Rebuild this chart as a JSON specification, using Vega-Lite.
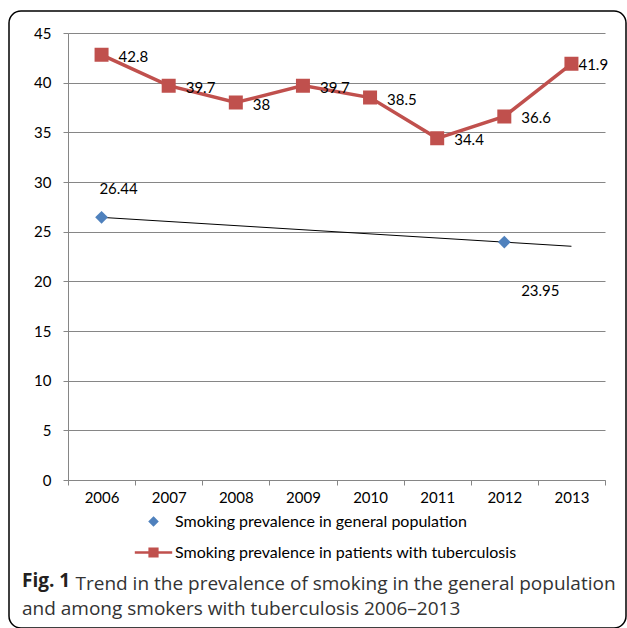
{
  "$schema": "https://vega.github.io/schema/vega-lite/v6.json",
  "autosize": {"type": "none"},
  "padding": {"left": 9, "top": 11, "right": 1, "bottom": 0},
  "width": 617,
  "height": 617,
  "background": "white",
  "title": {
    "text": "Fig. 1",
    "subtitle": "and among smokers with tuberculosis 2006–2013",
    "orient": "bottom",
    "anchor": "start",
    "frame": "group",
    "offset": -56,
    "dx": 13,
    "font": "Open Sans",
    "fontSize": 19,
    "fontWeight": "bold",
    "color": "#231f20",
    "subtitleFont": "Open Sans",
    "subtitleFontSize": 19,
    "subtitleColor": "#333333",
    "subtitlePadding": 9
  },
  "data": {
    "values": [
      {"year": "2006", "series": "Smoking prevalence in patients with tuberculosis", "value": 42.8},
      {"year": "2007", "series": "Smoking prevalence in patients with tuberculosis", "value": 39.7},
      {"year": "2008", "series": "Smoking prevalence in patients with tuberculosis", "value": 38},
      {"year": "2009", "series": "Smoking prevalence in patients with tuberculosis", "value": 39.7},
      {"year": "2010", "series": "Smoking prevalence in patients with tuberculosis", "value": 38.5},
      {"year": "2011", "series": "Smoking prevalence in patients with tuberculosis", "value": 34.4},
      {"year": "2012", "series": "Smoking prevalence in patients with tuberculosis", "value": 36.6},
      {"year": "2013", "series": "Smoking prevalence in patients with tuberculosis", "value": 41.9},
      {"year": "2006", "series": "Smoking prevalence in general population", "value": 26.44},
      {"year": "2012", "series": "Smoking prevalence in general population", "value": 23.95},
      {"year": "2006", "series": "trend", "value": 26.44},
      {"year": "2013", "series": "trend", "value": 23.53}
    ]
  },
  "encoding": {
    "x": {
      "field": "year",
      "type": "ordinal",
      "scale": {"domain": ["2006", "2007", "2008", "2009", "2010", "2011", "2012", "2013"], "range": [59, 596], "paddingInner": 0, "paddingOuter": 0},
      "axis": {
        "title": null,
        "labelAngle": 0,
        "offset": -148,
        "tickBand": "extent",
        "tickSize": 5,
        "labelPadding": 5,
        "grid": false,
        "domainColor": "#868686",
        "tickColor": "#868686"
      }
    },
    "y": {
      "field": "value",
      "type": "quantitative",
      "scale": {"domain": [0, 45], "range": [469, 22], "nice": false, "zero": true},
      "axis": {
        "title": "Trend in the prevalence of smoking in the general population",
        "titleAngle": 0,
        "titleAlign": "left",
        "titleBaseline": "middle",
        "titleX": 7,
        "titleY": 572,
        "titleFont": "Open Sans",
        "titleFontSize": 19,
        "titleFontWeight": "normal",
        "titleColor": "#333333",
        "offset": -59,
        "values": [0, 5, 10, 15, 20, 25, 30, 35, 40, 45],
        "tickSize": 5,
        "labelPadding": 12,
        "grid": true,
        "gridColor": "#868686",
        "gridWidth": 1,
        "domainColor": "#868686",
        "tickColor": "#868686"
      }
    }
  },
  "layer": [
    {
      "transform": [{"filter": "datum.series === 'Smoking prevalence in patients with tuberculosis'"}],
      "mark": {"type": "line", "color": "#C0504D", "strokeWidth": 3.5}
    },
    {
      "transform": [{"filter": "datum.series === 'trend'"}],
      "mark": {"type": "line", "color": "#000000", "strokeWidth": 1}
    },
    {
      "transform": [{"filter": "datum.series !== 'trend'"}],
      "mark": {"type": "point", "filled": true, "opacity": 1, "size": 1600, "strokeWidth": 0},
      "encoding": {
        "fill": {
          "field": "series",
          "type": "nominal",
          "scale": {"domain": ["Smoking prevalence in general population", "Smoking prevalence in patients with tuberculosis"], "range": ["#4F81BD", "#C0504D"]},
          "legend": {
            "title": null,
            "orient": "none",
            "legendX": 132,
            "legendY": 498,
            "direction": "vertical",
            "padding": 0,
            "rowPadding": 9,
            "labelOffset": 9,
            "labelFont": "Lato",
            "labelFontSize": 16,
            "labelColor": "#000000",
            "labelLimit": 600,
            "symbolSize": 484,
            "symbolStrokeWidth": 2.5
          }
        },
        "stroke": {
          "field": "series",
          "type": "nominal",
          "scale": {"domain": ["Smoking prevalence in general population", "Smoking prevalence in patients with tuberculosis"], "range": ["#4F81BD", "#C0504D"]},
          "legend": {
            "title": null,
            "orient": "none",
            "legendX": 132,
            "legendY": 498,
            "direction": "vertical",
            "padding": 0,
            "rowPadding": 9,
            "labelOffset": 9,
            "labelFont": "Lato",
            "labelFontSize": 16,
            "labelColor": "#000000",
            "labelLimit": 600,
            "symbolSize": 484,
            "symbolStrokeWidth": 2.5
          }
        },
        "shape": {
          "field": "series",
          "type": "nominal",
          "scale": {"domain": ["Smoking prevalence in general population", "Smoking prevalence in patients with tuberculosis"], "range": ["M0,-0.32L0.32,0L0,0.32L-0.32,0Z", "M-1.7,0H1.7M-0.35,-0.35H0.35V0.35H-0.35Z"]},
          "legend": {
            "title": null,
            "orient": "none",
            "legendX": 132,
            "legendY": 498,
            "direction": "vertical",
            "padding": 0,
            "rowPadding": 9,
            "labelOffset": 9,
            "labelFont": "Lato",
            "labelFontSize": 16,
            "labelColor": "#000000",
            "labelLimit": 600,
            "symbolSize": 484,
            "symbolStrokeWidth": 2.5
          }
        }
      }
    },
    {
      "transform": [{"filter": "datum.series === 'Smoking prevalence in patients with tuberculosis' && datum.year !== '2013'"}],
      "mark": {"type": "text", "align": "left", "baseline": "middle", "dx": 17, "dy": 2, "font": "Lato", "fontSize": 15, "color": "#000000"},
      "encoding": {"text": {"field": "value", "type": "quantitative"}}
    },
    {
      "transform": [{"filter": "datum.series === 'Smoking prevalence in patients with tuberculosis' && datum.year === '2013'"}],
      "mark": {"type": "text", "align": "left", "baseline": "middle", "dx": 7, "dy": 1, "font": "Lato", "fontSize": 15, "color": "#000000"},
      "encoding": {"text": {"field": "value", "type": "quantitative"}}
    },
    {
      "transform": [{"filter": "datum.series === 'Smoking prevalence in general population' && datum.year === '2006'"}],
      "mark": {"type": "text", "align": "center", "baseline": "middle", "dx": 17, "dy": -28, "font": "Lato", "fontSize": 15, "color": "#000000"},
      "encoding": {"text": {"field": "value", "type": "quantitative"}}
    },
    {
      "transform": [{"filter": "datum.series === 'Smoking prevalence in general population' && datum.year === '2012'"}],
      "mark": {"type": "text", "align": "center", "baseline": "middle", "dx": 36, "dy": 49, "font": "Lato", "fontSize": 15, "color": "#000000"},
      "encoding": {"text": {"field": "value", "type": "quantitative"}}
    }
  ],
  "config": {
    "view": {"stroke": "#000000", "strokeWidth": 1.5, "cornerRadius": 12},
    "axis": {"labelFont": "Lato", "labelFontSize": 15, "labelColor": "#000000"}
  }
}
